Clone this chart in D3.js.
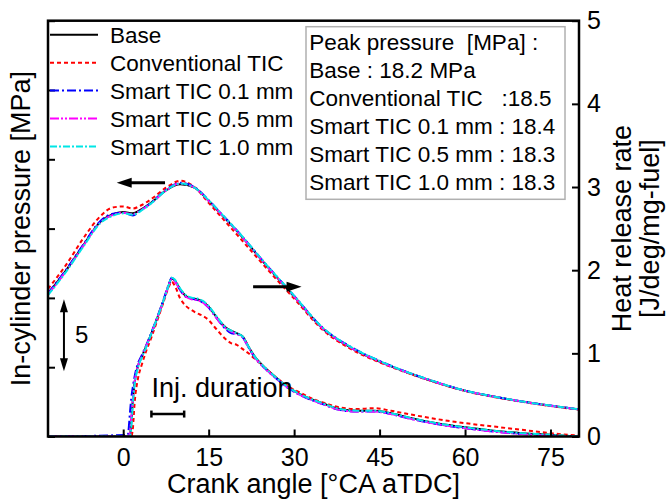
<!DOCTYPE html>
<html><head><meta charset="utf-8">
<script src="https://cdn.jsdelivr.net/npm/d3@7"></script>
<style>body{margin:0;background:#fff} text{font-family:"Liberation Sans",Arial,sans-serif;fill:#000}</style>
</head><body><svg id="c" width="670" height="501"></svg>
<script>
const seriesNames = ["Base","Conventional TIC","Smart TIC 0.1 mm","Smart TIC 0.5 mm","Smart TIC 1.0 mm"];
const peakLines = ["Peak pressure  [MPa] :","Base : 18.2 MPa","Conventional TIC   :18.5","Smart TIC 0.1 mm : 18.4","Smart TIC 0.5 mm : 18.3","Smart TIC 1.0 mm : 18.3"];
const xTicks = [0,15,30,45,60,75];
const hrrTicks = [0,1,2,3,4,5];
const pTicks = [0,5,10,15,20,25,30];

const pAngles = [-13.2,-10,-7,-4,-2,0,1.7,3,5,7.5,10,12.5,15,17.5,20,25,30,35,40,45,50,55,60,65,70,75,80];
const pBase = [10.3,12.0,13.8,15.5,16.0,16.2,16.1,16.35,16.9,17.75,18.2,17.95,17.0,15.9,14.8,12.4,10.1,7.8,6.4,5.4,4.6,3.9,3.3,2.88,2.52,2.22,1.95];
const pConv = [10.65,12.4,14.3,15.9,16.5,16.6,16.45,16.65,17.15,17.95,18.45,18.0,16.85,15.7,14.55,12.2,9.95,7.7,6.3,5.35,4.57,3.88,3.28,2.86,2.5,2.2,1.94];
const p01 = [10.35,12.05,13.85,15.55,16.05,16.15,15.95,16.3,16.9,17.8,18.3,18.0,17.05,15.95,14.85,12.45,10.15,7.85,6.45,5.45,4.62,3.92,3.31,2.89,2.53,2.23,1.96];
const p05 = [10.25,11.95,13.75,15.45,15.95,16.15,16.05,16.3,16.85,17.75,18.25,17.95,17.0,15.9,14.8,12.4,10.1,7.8,6.4,5.4,4.6,3.9,3.3,2.88,2.52,2.22,1.95];
const p10 = [10.2,11.9,13.7,15.4,15.9,16.1,16.0,16.25,16.85,17.75,18.25,17.95,17.05,15.95,14.85,12.45,10.15,7.85,6.45,5.45,4.62,3.92,3.31,2.89,2.53,2.23,1.96];

const hAngles = [-13.2,0.8,1.2,1.4,1.7,2,2.6,3.2,4,5,6,7,8,8.5,9,10,11,12,13,14,15,16,17,18,19,20,21,22,23,25,27,29,31,33,35,38,41,44,47,50,55,60,65,70,75,80];
const hBase = [0,0,0.02,0.15,0.45,0.65,0.85,0.95,1.08,1.25,1.43,1.62,1.82,1.90,1.88,1.77,1.69,1.66,1.65,1.62,1.56,1.47,1.38,1.31,1.27,1.24,1.2,1.08,0.97,0.82,0.70,0.59,0.51,0.45,0.40,0.33,0.31,0.31,0.28,0.23,0.16,0.11,0.07,0.04,0.02,0.0];
const hConv = [0,0,0,0,0.1,0.4,0.7,0.85,1.02,1.2,1.4,1.6,1.8,1.86,1.82,1.66,1.57,1.52,1.48,1.45,1.40,1.32,1.24,1.17,1.12,1.10,1.05,1.0,0.94,0.82,0.70,0.60,0.53,0.46,0.41,0.35,0.33,0.34,0.31,0.27,0.21,0.16,0.12,0.08,0.04,0.01];
const h01 = [0,0.02,0.3,0.45,0.6,0.72,0.88,0.97,1.09,1.26,1.44,1.63,1.83,1.91,1.88,1.76,1.68,1.66,1.64,1.61,1.55,1.46,1.37,1.29,1.24,1.23,1.19,1.07,0.96,0.81,0.69,0.58,0.50,0.44,0.39,0.32,0.30,0.30,0.27,0.22,0.15,0.10,0.06,0.03,0.01,0];
const h05 = [0,0,0.05,0.2,0.45,0.65,0.85,0.95,1.08,1.25,1.43,1.62,1.82,1.89,1.87,1.76,1.68,1.65,1.64,1.61,1.55,1.46,1.37,1.30,1.26,1.23,1.19,1.07,0.96,0.81,0.69,0.58,0.50,0.44,0.39,0.32,0.30,0.30,0.27,0.22,0.15,0.10,0.06,0.03,0.01,0];
const h10 = [0,0,0,0.1,0.4,0.62,0.83,0.94,1.07,1.25,1.43,1.62,1.82,1.91,1.89,1.78,1.70,1.67,1.66,1.63,1.57,1.48,1.39,1.31,1.27,1.24,1.2,1.08,0.97,0.82,0.70,0.59,0.51,0.45,0.40,0.33,0.31,0.31,0.28,0.23,0.16,0.11,0.07,0.04,0.02,0];

const pressureSeries = [pBase,pConv,p01,p05,p10];
const hrrSeries = [hBase,hConv,h01,h05,h10];
const colors = ["#000000","#ff0000","#0000ff","#ff00ff","#00e6e6"];
const dashes = [null,"4,3","9,3,2,3","9,2,2,2,2,2","7,2,2,2"];

const svg = d3.select("#c");
const L=48, R=579, T=20.7, B=436.5;
const x = d3.scaleLinear().domain([-13.2,80]).range([L,R]);
const yP = d3.scaleLinear().domain([0,30]).range([B,T]);
const yH = d3.scaleLinear().domain([0,5]).range([B,T]);

// curves
const clip = svg.append("clipPath").attr("id","cp").append("rect").attr("x",L).attr("y",T).attr("width",R-L).attr("height",B-T);
const g = svg.append("g").attr("clip-path","url(#cp)");
const lineP = d3.line().x(d=>x(d[0])).y(d=>yP(d[1])).curve(d3.curveMonotoneX);
const lineH = d3.line().x(d=>x(d[0])).y(d=>yH(d[1])).curve(d3.curveMonotoneX);
seriesNames.forEach((n,i)=>{
  g.append("path").attr("d",lineP(pAngles.map((a,j)=>[a,pressureSeries[i][j]])))
   .attr("fill","none").attr("stroke",colors[i]).attr("stroke-width",2).attr("stroke-dasharray",dashes[i]);
  g.append("path").attr("d",lineH(hAngles.map((a,j)=>[a,hrrSeries[i][j]])))
   .attr("fill","none").attr("stroke",colors[i]).attr("stroke-width",2).attr("stroke-dasharray",dashes[i]);
});

// axes
const fs = "25px";
const ax = svg.append("g").attr("transform",`translate(0,${B})`)
  .call(d3.axisBottom(x).tickValues(xTicks).tickSize(-7).tickPadding(12).tickFormat(d3.format("d")));
const ar = svg.append("g").attr("transform",`translate(${R},0)`)
  .call(d3.axisRight(yH).tickValues(hrrTicks).tickSize(-7).tickPadding(8).tickFormat(d3.format("d")));
const al = svg.append("g").attr("transform",`translate(${L},0)`)
  .call(d3.axisLeft(yP).tickValues(pTicks).tickSize(-7).tickFormat(""));
[ax,ar,al].forEach(a=>{
  a.selectAll(".domain").remove();
  a.selectAll(".tick line").attr("stroke","#000").attr("stroke-width",2);
  a.selectAll(".tick text").style("font-size",fs).attr("fill","#000");
});
svg.append("rect").attr("x",L).attr("y",T).attr("width",R-L).attr("height",B-T)
  .attr("fill","none").attr("stroke","#000").attr("stroke-width",2.5);

// axis titles
svg.append("text").attr("x",(L+R)/2).attr("y",493).attr("text-anchor","middle").style("font-size","27px").text("Crank angle [°CA aTDC]");
svg.append("text").attr("transform",`translate(30,${(T+B)/2}) rotate(-90)`).attr("text-anchor","middle").style("font-size","27px").text("In-cylinder pressure [MPa]");
svg.append("text").attr("transform",`translate(631,${(T+B)/2}) rotate(-90)`).attr("text-anchor","middle").style("font-size","27px").text("Heat release rate");
svg.append("text").attr("transform",`translate(659,${(T+B)/2}) rotate(-90)`).attr("text-anchor","middle").style("font-size","27px").text("[J/deg/mg-fuel]");

// legend
const leg = svg.append("g");
seriesNames.forEach((n,i)=>{
  const yy = 34.7 + i*27.95;
  leg.append("line").attr("x1",50).attr("x2",98).attr("y1",yy).attr("y2",yy)
    .attr("stroke",colors[i]).attr("stroke-width",2).attr("stroke-dasharray",dashes[i]);
  leg.append("text").attr("x",110).attr("y",yy).attr("dy","0.36em").style("font-size","22.5px").text(n);
});

// peak pressure box
svg.append("rect").attr("x",306).attr("y",26.7).attr("width",259).attr("height",172.6)
  .attr("fill","#fff").attr("stroke","#b0b0b0").attr("stroke-width",1.5);
peakLines.forEach((t,i)=>{
  svg.append("text").attr("x",309.3).attr("y",50+i*28).style("font-size","22.5px").style("white-space","pre").text(t);
});

// arrows
function hArrow(x1,x2,y,dir){
  const tip = dir<0?Math.min(x1,x2):Math.max(x1,x2);
  const tail = dir<0?Math.max(x1,x2):Math.min(x1,x2);
  svg.append("line").attr("x1",tail).attr("x2",tip - dir*10).attr("y1",y).attr("y2",y).attr("stroke","#000").attr("stroke-width",3);
  svg.append("path").attr("d",`M${tip},${y} L${tip-dir*15},${y-5} L${tip-dir*15},${y+5} Z`).attr("fill","#000");
}
hArrow(x(-1.14), x(7.34), yP(18.3), -1);
hArrow(x(22.8), x(31.3), yP(10.8), 1);

// vertical 5 MPa scale arrow
const vx = x(-10.4), vt = yP(9.9), vb = yP(4.7);
svg.append("line").attr("x1",vx).attr("x2",vx).attr("y1",vt+10).attr("y2",vb-10).attr("stroke","#000").attr("stroke-width",2);
svg.append("path").attr("d",`M${vx},${vt} L${vx-4},${vt+13} L${vx+4},${vt+13} Z`).attr("fill","#000");
svg.append("path").attr("d",`M${vx},${vb} L${vx-4},${vb-13} L${vx+4},${vb-13} Z`).attr("fill","#000");
svg.append("text").attr("x",vx+11).attr("y",343).style("font-size","24px").text("5");

// injection duration
const iy = yH(0.27), i1 = x(4.95), i2 = x(10.7);
svg.append("line").attr("x1",i1).attr("x2",i2).attr("y1",iy).attr("y2",iy).attr("stroke","#000").attr("stroke-width",2.5);
svg.append("line").attr("x1",i1).attr("x2",i1).attr("y1",iy-3.5).attr("y2",iy+3.5).attr("stroke","#000").attr("stroke-width",2.5);
svg.append("line").attr("x1",i2).attr("x2",i2).attr("y1",iy-3.5).attr("y2",iy+3.5).attr("stroke","#000").attr("stroke-width",2.5);
svg.append("text").attr("x",i1).attr("y",396.7).style("font-size","27px").text("Inj. duration");
</script></body></html>
